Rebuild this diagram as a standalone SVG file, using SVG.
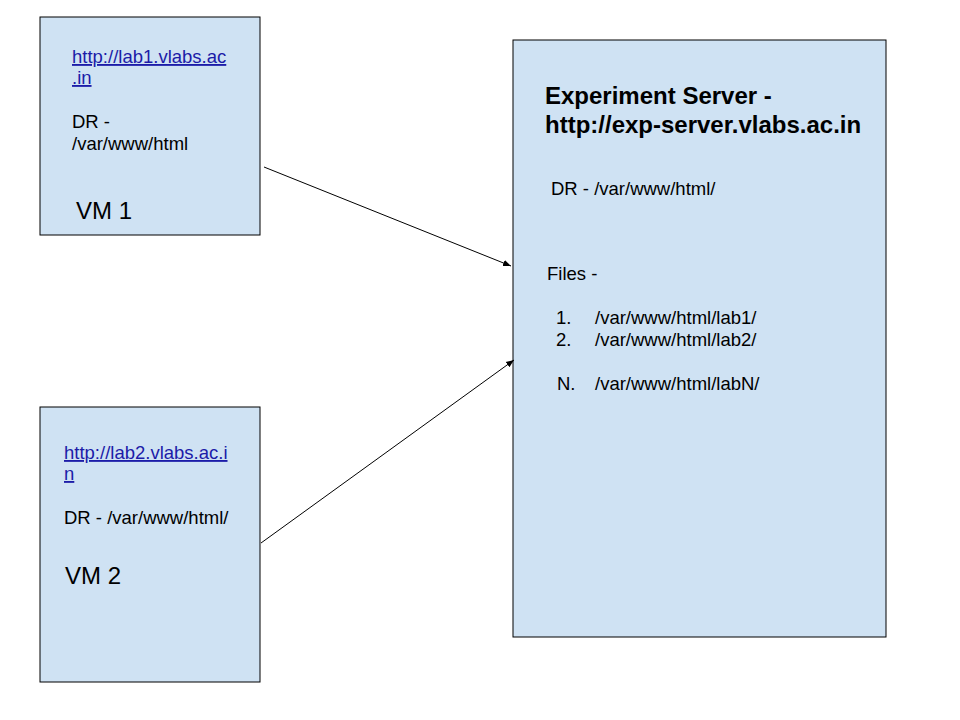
<svg xmlns="http://www.w3.org/2000/svg" width="960" height="720" viewBox="0 0 960 720">
<defs>
<style>
.box{fill:#cfe2f3;stroke:#000;stroke-width:1}
.t{font-family:"Liberation Sans",Arial,sans-serif;font-size:18.5px;fill:#000}
.link{font-family:"Liberation Sans",Arial,sans-serif;font-size:18.5px;fill:#1c1ca8;text-decoration:underline}
.vm{font-family:"Liberation Sans",Arial,sans-serif;font-size:24px;fill:#000}
.h{font-family:"Liberation Sans",Arial,sans-serif;font-size:24px;font-weight:bold;fill:#000}
.c{stroke:#000;stroke-width:1;fill:none}
</style>
<marker id="ah" viewBox="0 0 10 10" refX="10" refY="5" markerWidth="8" markerHeight="8" orient="auto" markerUnits="userSpaceOnUse">
<path d="M0,1 L10,5 L0,9 z" fill="#000"/>
</marker>
</defs>
<rect width="960" height="720" fill="#fff"/>
<g id="vm1">
<rect class="box" x="40" y="17" width="220" height="218"/>
<text class="link" x="72" y="63">http://lab1.vlabs.ac</text>
<text class="link" x="72" y="84">.in</text>
<text class="t" x="72" y="128">DR -</text>
<text class="t" x="72" y="150">/var/www/html</text>
<text class="vm" x="76" y="219">VM 1</text>
</g>
<g id="vm2">
<rect class="box" x="40" y="407" width="220" height="275"/>
<text class="link" x="64" y="459">http://lab2.vlabs.ac.i</text>
<text class="link" x="64" y="480">n</text>
<text class="t" x="64" y="524">DR - /var/www/html/</text>
<text class="vm" x="65" y="584">VM 2</text>
</g>
<g id="server">
<rect class="box" x="513" y="40" width="373" height="597"/>
<text class="h" x="545" y="104">Experiment Server -</text>
<text class="h" x="545" y="133">http://exp-server.vlabs.ac.in</text>
<text class="t" x="551" y="195">DR - /var/www/html/</text>
<text class="t" x="547" y="280">Files -</text>
<text class="t" x="556" y="324">1.</text>
<text class="t" x="595" y="324">/var/www/html/lab1/</text>
<text class="t" x="556" y="346">2.</text>
<text class="t" x="595" y="346">/var/www/html/lab2/</text>
<text class="t" x="557" y="390">N.</text>
<text class="t" x="595" y="390">/var/www/html/labN/</text>
</g>
<g id="connectors">
<line class="c" x1="264" y1="167" x2="511" y2="266" marker-end="url(#ah)"/>
<line class="c" x1="261" y1="543" x2="514" y2="360" marker-end="url(#ah)"/>
</g>
</svg>
